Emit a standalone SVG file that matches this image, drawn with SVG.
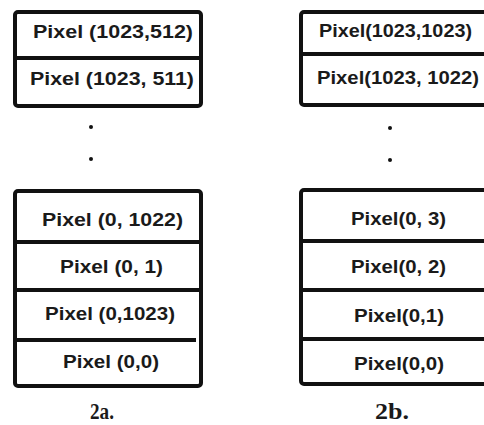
<svg xmlns="http://www.w3.org/2000/svg" width="484" height="425" viewBox="0 0 484 425">
  <style>
    .box { fill: #ffffff; stroke: #111111; stroke-width: 4; stroke-linejoin: round; }
    .div { stroke: #111111; stroke-width: 4; stroke-linecap: butt; }
    .lbl { font-family: "Liberation Sans", Arial, sans-serif; font-weight: bold; font-size: 18px; fill: #1a1a1a; }
    .cap { font-family: "Liberation Serif", "Times New Roman", serif; font-weight: bold; font-size: 23px; fill: #1a1a1a; }
    .dot { fill: #111111; }
  </style>
  <rect width="484" height="425" fill="#ffffff"/>

  <!-- 2a: upper pixel stack -->
  <g id="stackA-top">
    <rect class="box" x="15" y="12" width="186" height="94" rx="3"/>
    <line class="div" x1="15" y1="58" x2="201" y2="58"/>
    <text class="lbl" x="33" y="38" textLength="160" lengthAdjust="spacingAndGlyphs">Pixel (1023,512)</text>
    <text class="lbl" x="30" y="85" textLength="164" lengthAdjust="spacingAndGlyphs">Pixel (1023, 511)</text>
  </g>

  <!-- 2b: upper pixel stack (runs past the right edge) -->
  <g id="stackB-top">
    <rect class="box" x="301" y="12" width="200" height="93" rx="3"/>
    <line class="div" x1="301" y1="54" x2="490" y2="54"/>
    <text class="lbl" x="319" y="37" textLength="153" lengthAdjust="spacingAndGlyphs">Pixel(1023,1023)</text>
    <text class="lbl" x="317" y="84" textLength="162" lengthAdjust="spacingAndGlyphs">Pixel(1023, 1022)</text>
  </g>

  <!-- ellipsis dots between stacks -->
  <g id="gapA">
    <circle class="dot" cx="91" cy="127" r="2"/>
    <circle class="dot" cx="91" cy="159" r="2"/>
  </g>
  <g id="gapB">
    <circle class="dot" cx="390" cy="128" r="2"/>
    <circle class="dot" cx="390" cy="160" r="2"/>
  </g>

  <!-- 2a: lower pixel stack -->
  <g id="stackA-bottom">
    <rect class="box" x="15" y="191" width="186" height="195" rx="3"/>
    <line class="div" x1="15" y1="242" x2="201" y2="242"/>
    <line class="div" x1="15" y1="290" x2="201" y2="290"/>
    <line class="div" x1="15" y1="340" x2="196" y2="340"/>
    <text class="lbl" x="42" y="226" textLength="141" lengthAdjust="spacingAndGlyphs">Pixel (0, 1022)</text>
    <text class="lbl" x="60" y="273" textLength="103" lengthAdjust="spacingAndGlyphs">Pixel (0, 1)</text>
    <text class="lbl" x="45" y="320" textLength="130" lengthAdjust="spacingAndGlyphs">Pixel (0,1023)</text>
    <text class="lbl" x="63" y="368" textLength="96" lengthAdjust="spacingAndGlyphs">Pixel (0,0)</text>
  </g>

  <!-- 2b: lower pixel stack -->
  <g id="stackB-bottom">
    <rect class="box" x="301" y="190" width="200" height="194" rx="3"/>
    <line class="div" x1="301" y1="241" x2="490" y2="241"/>
    <line class="div" x1="301" y1="290" x2="490" y2="290"/>
    <line class="div" x1="301" y1="339" x2="490" y2="339"/>
    <text class="lbl" x="351" y="225" textLength="95" lengthAdjust="spacingAndGlyphs">Pixel(0, 3)</text>
    <text class="lbl" x="351" y="273" textLength="95" lengthAdjust="spacingAndGlyphs">Pixel(0, 2)</text>
    <text class="lbl" x="354" y="322" textLength="90" lengthAdjust="spacingAndGlyphs">Pixel(0,1)</text>
    <text class="lbl" x="354" y="370" textLength="90" lengthAdjust="spacingAndGlyphs">Pixel(0,0)</text>
  </g>

  <!-- figure captions -->
  <g id="captions">
    <text class="cap" x="90" y="419" textLength="24" lengthAdjust="spacingAndGlyphs">2a.</text>
    <text class="cap" x="375" y="419" textLength="34" lengthAdjust="spacingAndGlyphs">2b.</text>
  </g>
</svg>
